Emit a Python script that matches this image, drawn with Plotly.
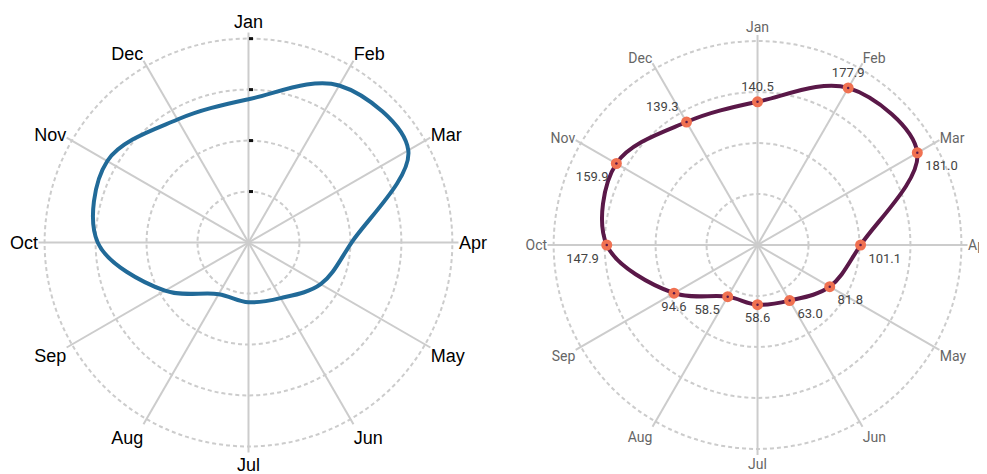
import plotly.graph_objects as go

months = ["Jan", "Feb", "Mar", "Apr", "May", "Jun", "Jul", "Aug", "Sep", "Oct", "Nov", "Dec"]
values = [140.5, 177.9, 181.0, 101.1, 81.8, 63.0, 58.6, 58.5, 94.6, 147.9, 159.9, 139.3]
label_pos = ["top center", "top center", "bottom right", "bottom right", "bottom right",
             "bottom right", "bottom center", "bottom left", "bottom center", "bottom left",
             "bottom left", "top left"]
radial_ticks = [50, 100, 150, 200]

theta_closed = months + months[:1]
r_closed = values + values[:1]

fig = go.Figure()

fig.add_trace(go.Scatterpolar(
    r=r_closed, theta=theta_closed, mode="lines",
    line=dict(color="#216a98", width=4, shape="spline", smoothing=1),
    fill="toself", fillcolor="rgba(0,0,0,0)",
    subplot="polar", showlegend=False, hoverinfo="skip",
))

fig.add_trace(go.Scatterpolar(
    r=r_closed, theta=theta_closed, mode="lines",
    line=dict(color="#5a1848", width=4, shape="spline", smoothing=1),
    fill="toself", fillcolor="rgba(0,0,0,0)",
    subplot="polar2", showlegend=False, hoverinfo="skip",
))
fig.add_trace(go.Scatterpolar(
    r=values, theta=months, mode="markers+text",
    marker=dict(symbol="circle", size=11, color="#f07151", line=dict(width=0)),
    text=[f"{v:.1f}" for v in values], textposition=label_pos,
    textfont=dict(family="Roboto", size=13, color="#444444"),
    subplot="polar2", showlegend=False,
))
fig.add_trace(go.Scatterpolar(
    r=values, theta=months, mode="markers",
    marker=dict(symbol="circle", size=2.5, color="#5a1848", line=dict(width=0)),
    subplot="polar2", showlegend=False, hoverinfo="skip",
))

grid = "#cccccc"
def polar_cfg(domx, domy, font, ticks):
    return dict(
        domain=dict(x=domx, y=domy),
        bgcolor="white",
        radialaxis=dict(range=[0, 206], tickvals=radial_ticks, angle=90,
                        showticklabels=False, showline=False,
                        ticks="outside" if ticks else "", ticklen=4, tickwidth=2.5,
                        tickcolor="#111111",
                        gridcolor=grid, gridwidth=2, griddash="4px,3px"),
        angularaxis=dict(categoryarray=months, type="category", direction="clockwise",
                         rotation=90, showline=False, ticks="",
                         gridcolor=grid, gridwidth=2, tickfont=font),
    )

fig.update_layout(
    width=987, height=474,
    margin=dict(l=0, r=0, t=0, b=0),
    paper_bgcolor="white",
    polar=polar_cfg([0.0309, 0.4564], [0.0622, 0.9483],
                    dict(family="Liberation Sans, Arial", size=18, color="#000000"), True),
    polar2=polar_cfg([0.5466, 0.9722], [0.0570, 0.9430],
                     dict(family="Roboto", size=14, color="#666666"), False),
)

fig.write_html("out.html")
